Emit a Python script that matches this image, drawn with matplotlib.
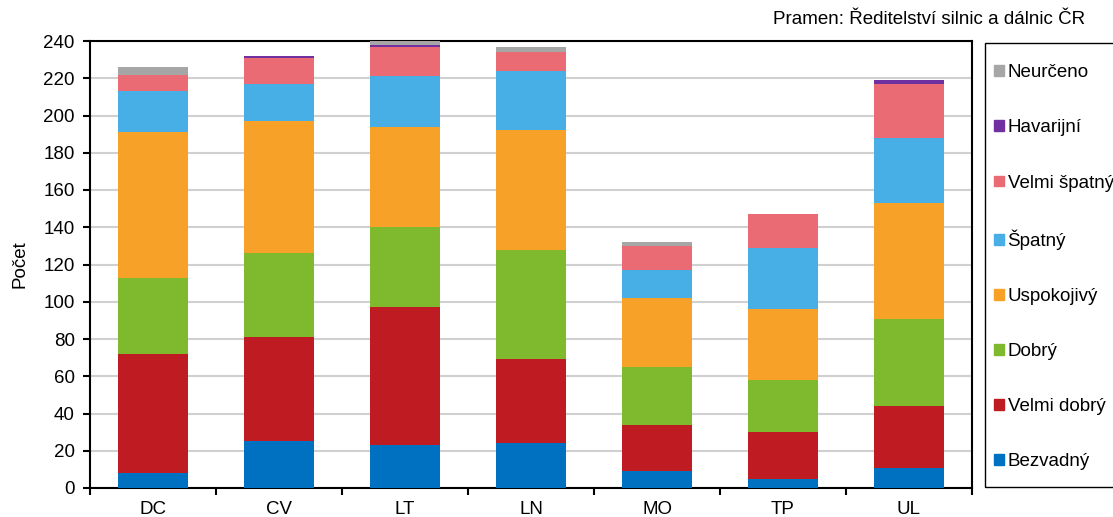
import numpy as np
import matplotlib
matplotlib.use("Agg")
import matplotlib.pyplot as plt
from matplotlib.patches import Patch, Rectangle

plt.rcParams['font.family'] = ['Liberation Sans', 'DejaVu Sans']
FS = 13.5

# data
regions = ["DC", "CV", "LT", "LN", "MO", "TP", "UL"]
bezvadny = [8, 25, 23, 24, 9, 5, 11]
velmi_dobry = [64, 56, 74, 45, 25, 25, 33]
dobry = [41, 45, 43, 59, 31, 28, 47]
uspokojivy = [78, 71, 54, 64, 37, 38, 62]
spatny = [22, 20, 27, 32, 15, 33, 35]
velmi_spatny = [9, 14, 16, 10, 13, 18, 29]
havarijni = [0, 1, 1, 0, 0, 0, 2]
neurceno = [4, 0, 2, 3, 2, 0, 0]

series = [
    ("Bezvadný", bezvadny, "#0070C0"),
    ("Velmi dobrý", velmi_dobry, "#BE1B22"),
    ("Dobrý", dobry, "#7FBA2E"),
    ("Uspokojivý", uspokojivy, "#F8A128"),
    ("Špatný", spatny, "#47AEE6"),
    ("Velmi špatný", velmi_spatny, "#EA6B73"),
    ("Havarijní", havarijni, "#7030A0"),
    ("Neurčeno", neurceno, "#A6A6A6"),
]

fig = plt.figure(figsize=(11.13, 5.17), dpi=100)
ax = fig.add_axes([90 / 1113, 1 - 488 / 517, 882 / 1113, 447 / 517])

x = np.arange(len(regions))
bottom = np.zeros(len(regions))
for name, vals, col in series:
    ax.bar(x, vals, 0.555, bottom=bottom, color=col, label=name, zorder=3)
    bottom += np.array(vals)

ax.set_xlim(-0.5, len(regions) - 0.5)
ax.set_ylim(0, 240)
ax.set_yticks(range(0, 241, 20))
ax.yaxis.grid(True, color="#D0D0D0", linewidth=1.5, zorder=0)
ax.set_xticks(x)
ax.set_xticklabels(regions)
ax.set_xticks(np.arange(-0.5, len(regions)), minor=True)
ax.tick_params(axis="x", which="major", length=0, pad=9, labelsize=FS)
ax.tick_params(axis="x", which="minor", length=5, width=1.5, direction="out")
ax.tick_params(axis="y", length=5, width=1.5, labelsize=FS, pad=6)
for s in ax.spines.values():
    s.set_linewidth(1.5)
    s.set_color("black")
ax.set_ylabel("Počet", fontsize=FS)
ax.yaxis.set_label_coords(-62 / 882, 0.5)

fig.text(1085 / 1113, 1 - 20 / 517, "Pramen: Ředitelství silnic a dálnic ČR",
         ha="right", va="center", fontsize=FS)

# legend frame (runs off the right edge like the original)
fig.patches.append(Rectangle((985 / 1113, 1 - 487 / 517), 0.2, 444 / 517,
                             transform=fig.transFigure, fill=False,
                             edgecolor="black", linewidth=1.0))
handles = [Patch(color=col, label=name) for name, vals, col in series][::-1]
fig.legend(handles=handles, loc="upper left",
           bbox_to_anchor=(985 / 1113, 1 - 55 / 517), frameon=False,
           fontsize=FS, handlelength=0.5, handleheight=0.5,
           handletextpad=0.2, labelspacing=2.03, borderpad=0)

fig.savefig("out.png", dpi=100)
